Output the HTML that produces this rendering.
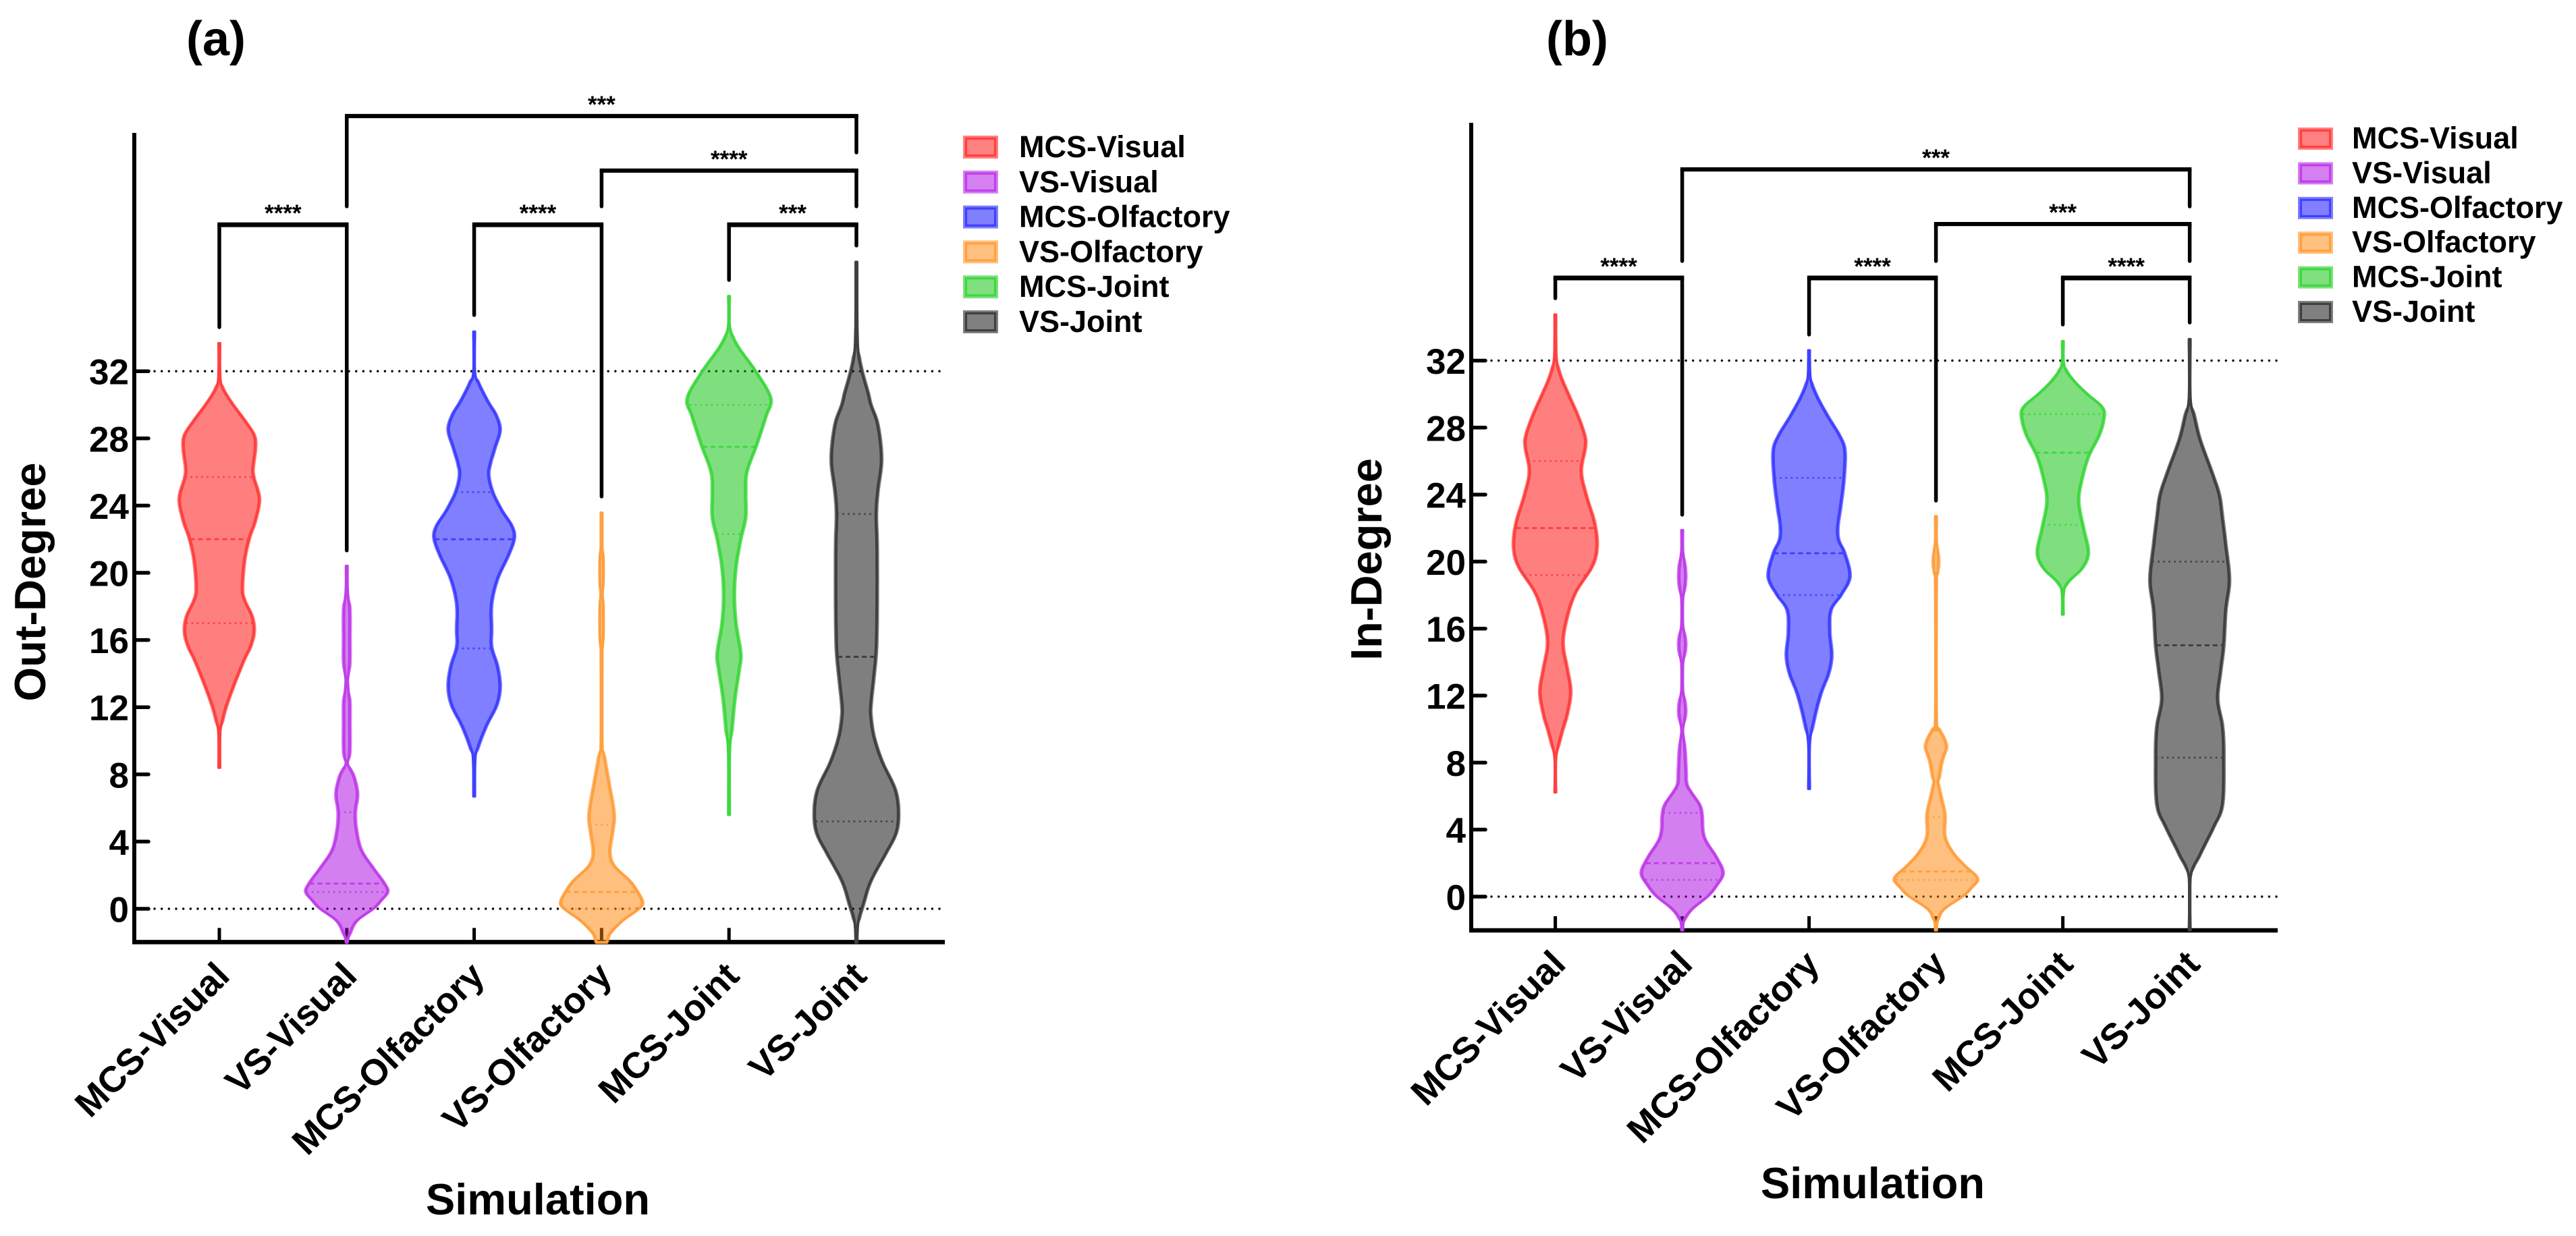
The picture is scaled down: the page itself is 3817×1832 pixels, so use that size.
<!DOCTYPE html>
<html lang="en">
<head>
<meta charset="utf-8">
<title>Out-Degree and In-Degree violin plots</title>
<style>
html,body{margin:0;padding:0;background:#fff;}
svg{display:block;}
text{font-family:"Liberation Sans",Arial,sans-serif;font-weight:bold;fill:#000;}
</style>
</head>
<body>
<svg id="figure" xmlns="http://www.w3.org/2000/svg" width="3817" height="1832" viewBox="0 0 3817 1832">
  <rect x="0" y="0" width="3817" height="1832" fill="#fff"/>
  <g id="panel-a">
    <text x="276" y="82" font-size="72">(a)</text>
    <text x="797" y="1800" font-size="65" text-anchor="middle">Simulation</text>
    <text transform="translate(67 862.5) rotate(-90)" font-size="65" text-anchor="middle">Out-Degree</text>
  </g>
  <g id="panel-b">
    <text x="2291" y="82" font-size="72">(b)</text>
    <text x="2775" y="1776" font-size="65" text-anchor="middle">Simulation</text>
    <text transform="translate(2047 829) rotate(-90)" font-size="65" text-anchor="middle">In-Degree</text>
  </g>
</svg>
<script>
// ---- shared categories and axis ticks ----
const categories = ["MCS-Visual","VS-Visual","MCS-Olfactory","VS-Olfactory","MCS-Joint","VS-Joint"];
const yTickValues = [0,4,8,12,16,20,24,28,32];
const referenceValues = [0,32];

// ---- panel (a) Out-Degree: density profile per group ----
const a1Values = [33.66,32,31.1,30.2,29.1,28.2,27.4,26.2,25.6,24.4,23.1,22.05,20.7,19.1,18.4,17.4,16.5,15.6,14.8,13.3,12.1,11,10.2,8.4];
const a1Density = [.17,.17,.6,2.75,6.1,8.5,8.8,8.2,8.5,9.8,8.8,7.3,6.1,5.6,6.1,8,8.5,7.6,6,3.5,1.7,.5,.17,.17];
const a1Quartiles = [17,22,25.7];
const a2Values = [20.4,19.3,18.6,17.7,16,14.8,14,13.6,12.9,12.2,11,9.6,9,8.6,7.87,6.83,5.75,4.7,3.5,2.43,1.53,1,.47,0,-.74,-1.5,-2];
const a2Density = [.17,.17,.33,.67,.67,.67,.42,.25,.42,.67,.67,.67,.5,.25,1.67,2.55,2,2.28,3.5,6.45,9.17,10,8.33,6.5,2.33,.67,.17];
const a2Quartiles = [1,1.5,5.75];
const a3Values = [34.35,32,31.3,30.2,29.4,28.5,27.4,26.5,25.8,24.8,23.7,22.8,22.05,21,19.65,18.15,16.6,15.6,14.4,13.2,12.1,10.9,9.7,8.9,6.7];
const a3Density = [.17,.17,1,3.3,5.3,6.3,5,3.9,3.5,4.5,6.8,9.2,9.8,8.3,5.7,4.2,4.2,4.2,5.7,6.3,5.45,2.95,1,.25,.17];
const a3Quartiles = [15.5,22,24.8];
const a4Values = [23.57,22,21.4,20.9,19.4,18.9,18.5,18.1,16.2,15.4,15,10,9.2,7.57,6.05,5.3,4.4,3.33,2.57,1.68,1,.4,0,-.74,-1.5,-2];
const a4Density = [.17,.17,.2,.42,.42,.25,.25,.42,.42,.17,.17,.17,.5,1.67,2.78,3,2.5,1.95,3,6.83,8.83,10,9.17,5,1.95,1.33];
const a4Quartiles = [0,1,5];
const a5Values = [36.46,34.7,33.6,32,30.4,29.3,27.6,26,24.75,23.3,21.9,20.3,18.66,17,15.2,14.2,12.6,10.6,9.15,5.6];
const a5Density = [.17,.17,1.8,6.5,10.2,9,6.7,4.3,4,4,2.7,1.6,1.2,1.6,2.8,2.4,1.4,.6,.17,.17];
const a5Quartiles = [22.3,27.5,30];
const a6Values = [38.5,36,34.2,33,32,30.7,30,28.8,26.76,24.9,23.5,21.5,17.85,15.4,13.8,12.2,11.4,10.2,8.75,7.1,5.7,4.5,3.3,1.66,.24,-.77,-2];
const a6Density = [.17,.17,.25,.5,1.3,2.8,3.5,5.2,6.1,5.2,4.8,5,5,4.8,4.2,3.5,3.5,4.3,6.3,9.5,10.3,9.7,7.2,3.5,1.6,.45,.17];
const a6Quartiles = [5.2,15,23.5];

// ---- panel (b) In-Degree: density profile per group ----
const b1Values = [34.74,33.2,32,31.1,29.9,28.7,27.5,26.8,25.4,24,22.3,20.9,19.7,18.1,16.47,15.07,13.66,12.25,10.85,9.68,8.27,6.23];
const b1Density = [.17,.17,.33,1.2,3.3,5.5,7.2,7.3,6.3,7.5,9.6,10.2,9,4.8,2.6,1.8,2.8,3.7,2.8,1.4,.17,.17];
const b1Quartiles = [19.2,22,26];
const b2Values = [21.87,20.7,20,19.13,18.3,17.7,16.3,15.7,15.05,14.4,13.8,12.4,11.8,11.1,10.5,9.9,9.1,7.5,6.75,6.28,5.5,4.87,3.93,3.3,2.36,1.42,.64,0,-.77,-1.4,-2];
const b2Density = [.17,.17,.5,.75,.5,.17,.17,.5,.75,.5,.17,.17,.5,.75,.5,.17,.5,.83,1,2,4.17,4.8,5,5.83,8.33,10,8.33,6.17,2.28,.5,.17];
const b2Quartiles = [1,2,5];
const b3Values = [32.6,32,30.84,29.9,28.7,27.5,26.6,24.9,23.3,22.1,21.3,20.5,19.1,18,17.1,15.8,14.4,13.3,12.1,10.5,9.1,6.44];
const b3Density = [.17,.17,.4,1.8,4.5,7.5,8.75,8.5,7.7,7,7.2,8.7,10,7.8,5.3,5,5.5,4.7,2.8,1.1,.17,.17];
const b3Quartiles = [18,20.5,25];
const b4Values = [22.7,21.3,20.7,20,19.3,18.5,10.7,10.04,9.5,8.94,8.4,8,7.2,6.75,5.8,4.87,3.6,2.67,1.9,1.1,.48,0,-.77,-1.4,-2];
const b4Density = [.17,.17,.42,.58,.42,.17,.17,.67,1.83,2.5,1.83,1.33,.75,.5,1.33,2.12,2.12,4,6.83,10.17,8.5,6.5,1.83,.45,.17];
const b4Quartiles = [1,1.5,4.75];
const b5Values = [33.15,32,31.4,30.7,30,29.2,28.5,27.5,26.3,25,23.6,22,20.55,19.6,18.7,18,16.85];
const b5Density = [.17,.17,.8,3,6,9.7,10,8.8,6.3,4.7,3.8,5,6.2,4.7,1,.17,.17];
const b5Quartiles = [22.2,26.5,28.8];
const b6Values = [33.27,29.8,28.64,27.26,25.4,24,22.6,21,18.9,17.1,15,13.4,11.77,10.15,8.3,5.5,4.14,2.52,1.13,-2];
const b6Density = [.17,.17,1.1,2.5,5.3,7.2,8,8.8,9.7,8.8,8.3,7.5,6.8,8,8.3,8,5.8,2.5,.17,.17];
const b6Quartiles = [8.3,15,20];

// ---- significance brackets: group indices, bar level and leg ends in axis units ----
const aBracketFrom = [1,3,0,2,4];
const aBracketTo = [5,5,1,3,5];
const aBracketLevel = [47.19,43.94,40.72,40.72,40.72];
const aBracketLeftEnd = [41.81,41.81,34.62,35.34,37.43];
const aBracketRightEnd = [45.02,41.81,21.33,24.54,39.48];
const aBracketStars = ["***","****","****","****","***"];
const bBracketFrom = [1,3,0,2,4];
const bBracketTo = [5,5,1,3,5];
const bBracketLevel = [43.41,40.15,36.93,36.93,36.93];
const bBracketLeftEnd = [37.94,37.94,35.72,33.55,34.15];
const bBracketRightEnd = [41.20,37.94,22.80,23.64,34.27];
const bBracketStars = ["***","***","****","****","****"];

// ---- series colours (style, separate from data) ----
const fillColors = ["#ff0000","#aa00e1","#0000ff","#ff8000","#00c000","#000000"];
const haloColors = ["#ff8080","#d580f0","#8080ff","#ffc080","#80e080","#808080"];
const lineColors = ["#ff4040","#c040e8","#4040ff","#ffa040","#40d840","#404040"];

const svgNS = "http://www.w3.org/2000/svg";
function make(tag, parent, attrs){
  const node = document.createElementNS(svgNS, tag);
  for (const k in attrs) node.setAttribute(k, attrs[k]);
  parent.appendChild(node);
  return node;
}
function slug(s){ return s.toLowerCase(); }

// Catmull-Rom resampling of a (value, density) profile
function sampleProfile(values, density){
  const out = [];
  const n = values.length;
  for (let i = 0; i < n - 1; i++){
    const v0 = values[Math.max(i-1,0)], v1 = values[i], v2 = values[i+1], v3 = values[Math.min(i+2,n-1)];
    const d0 = density[Math.max(i-1,0)], d1 = density[i], d2 = density[i+1], d3 = density[Math.min(i+2,n-1)];
    for (let s = 0; s < 6; s++){
      const t = s/6, t2 = t*t, t3 = t2*t;
      const v = .5*(2*v1 + (v2-v0)*t + (2*v0-5*v1+4*v2-v3)*t2 + (3*v1-v0-3*v2+v3)*t3);
      const d = .5*(2*d1 + (d2-d0)*t + (2*d0-5*d1+4*d2-d3)*t2 + (3*d1-d0-3*d2+d3)*t3);
      out.push([v, Math.max(d, .1)]);
    }
  }
  out.push([values[n-1], Math.max(density[n-1], .1)]);
  return out;
}
function densityAt(values, density, q){
  for (let i = 0; i < values.length - 1; i++){
    if (q <= values[i] && q >= values[i+1]){
      const f = (values[i] - q) / ((values[i] - values[i+1]) || 1);
      return density[i] + f * (density[i+1] - density[i]);
    }
  }
  return 0;
}

function drawPanel(cfg){
  const root = document.getElementById(cfg.id);
  const yScale = v => cfg.yZero - cfg.unit * v;
  const xScale = i => cfg.firstX + cfg.stepX * i;
  const widthScale = d => d * 6;

  // reference lines
  referenceValues.forEach(function(v){
    const line = make("line", root, {x1:cfg.axisX + 30, x2:cfg.xEnd, y1:yScale(v), y2:yScale(v), stroke:"#000", "stroke-width":3.4, "stroke-linecap":"round", "stroke-dasharray":"0 10.67"});
    
    
  });

  // y axis
  const yAxis = make("line", root, {x1:cfg.axisX, x2:cfg.axisX, y1:cfg.axisTop, y2:cfg.axisY + 3, stroke:"#000", "stroke-width":6});
  
  
  yTickValues.forEach(function(v){
    const tick = make("line", root, {x1:cfg.axisX, x2:cfg.axisX + 21, y1:yScale(v), y2:yScale(v), stroke:"#000", "stroke-width":5.5, "stroke-linecap":"round"});
    
    
    const label = make("text", root, {x:cfg.axisX - 8, y:yScale(v) + 19.5, "font-size":53, "text-anchor":"end"});
    label.textContent = String(v);
    
    
  });

  // x axis
  const xAxis = make("line", root, {x1:cfg.axisX - 3, x2:cfg.xEnd, y1:cfg.axisY, y2:cfg.axisY, stroke:"#000", "stroke-width":6.5});
  
  
  categories.forEach(function(name, i){
    const tick = make("line", root, {x1:xScale(i), x2:xScale(i), y1:cfg.axisY - 21, y2:cfg.axisY, stroke:"#000", "stroke-width":5});
    
    
    const label = make("text", root, {transform:"translate(" + (xScale(i) + 18) + " " + (cfg.axisY + 53) + ") rotate(-45)", "font-size":54, "text-anchor":"end"});
    label.textContent = name;
    
    
  });

  // violins
  cfg.violins.forEach(function(series, i){
    const name = slug(categories[i]);
    const g = make("g", root, {});
    
    
    const samples = sampleProfile(series.values, series.density);
    const cx = xScale(i);
    const outline = function(extra){
      const right = samples.map(function(p){
        const w = widthScale(p[1]);
        const h = w + extra * Math.min(1, Math.max(0, w - 1) / 2.5);
        return (cx + h).toFixed(1) + "," + yScale(p[0]).toFixed(1);
      });
      const left = samples.slice().reverse().map(function(p){
        const w = widthScale(p[1]);
        const h = w + extra * Math.min(1, Math.max(0, w - 1) / 2.5);
        return (cx - h).toFixed(1) + "," + yScale(p[0]).toFixed(1);
      });
      return "M" + right.concat(left).join("L") + "Z";
    };
    const body = make("path", g, {d:outline(3.6), fill:fillColors[i], "fill-opacity":.5});
    
    
    const edge = make("path", g, {d:outline(0), fill:"none", stroke:lineColors[i], "stroke-width":4, "stroke-linejoin":"round"});
    
    
    series.quartiles.forEach(function(q, k){
      const hw = widthScale(densityAt(series.values, series.density, q));
      const isMedian = k === 1;
      const line = make("line", g, {x1:cx - hw, x2:cx + hw, y1:yScale(q), y2:yScale(q), stroke:lineColors[i], "stroke-width":isMedian ? 3 : 2.6, "stroke-dasharray":isMedian ? "7 5" : "2.6 5.4"});
      
      
    });
  });

  // brackets
  cfg.from.forEach(function(fromIdx, b){
    const toIdx = cfg.to[b];
    const g = make("g", root, {});
    
    
    const xa = xScale(fromIdx), xb = xScale(toIdx), yl = yScale(cfg.level[b]);
    const bar = make("line", g, {x1:xa - 2.75, x2:xb + 2.75, y1:yl, y2:yl, stroke:"#000", "stroke-width":b < 2 ? 6.2 : 7});
    
    
    const legA = make("line", g, {x1:xa, x2:xa, y1:yl, y2:yScale(cfg.leftEnd[b]), stroke:"#000", "stroke-width":5.5, "stroke-linecap":"round"});
    
    
    const legB = make("line", g, {x1:xb, x2:xb, y1:yl, y2:yScale(cfg.rightEnd[b]), stroke:"#000", "stroke-width":5.5, "stroke-linecap":"round"});
    
    
    const stars = make("text", g, {x:(xa + xb) / 2, y:yl - 5, "font-size":35, "text-anchor":"middle"});
    stars.textContent = cfg.stars[b];
    
    
  });

  // legend
  categories.forEach(function(name, i){
    const g = make("g", root, {});
    
    
    const y = cfg.legendY + i * cfg.legendStep;
    const swatch = make("rect", g, {x:cfg.legendX, y:y, width:52, height:cfg.legendH, fill:haloColors[i]});
    
    
    const border = make("rect", g, {x:cfg.legendX + 4.4, y:y + 4.4, width:43.2, height:cfg.legendH - 8.8, fill:"none", stroke:lineColors[i], "stroke-width":3.3});
    
    
    const label = make("text", g, {x:cfg.legendTextX, y:y + cfg.legendH - 2, "font-size":45});
    label.textContent = name;
    
    
  });
}

drawPanel({
  id:"panel-a", axisX:199, xEnd:1400, axisTop:197, axisY:1396.4, yZero:1347, unit:24.9, firstX:325, stepX:188.8,
  legendX:1427, legendY:201, legendStep:51.8, legendH:34, legendTextX:1510,
  violins:[
    {values:a1Values, density:a1Density, quartiles:a1Quartiles},
    {values:a2Values, density:a2Density, quartiles:a2Quartiles},
    {values:a3Values, density:a3Density, quartiles:a3Quartiles},
    {values:a4Values, density:a4Density, quartiles:a4Quartiles},
    {values:a5Values, density:a5Density, quartiles:a5Quartiles},
    {values:a6Values, density:a6Density, quartiles:a6Quartiles}
  ],
  from:aBracketFrom, to:aBracketTo, level:aBracketLevel, leftEnd:aBracketLeftEnd, rightEnd:aBracketRightEnd, stars:aBracketStars
});
drawPanel({
  id:"panel-b", axisX:2180, xEnd:3375, axisTop:182, axisY:1379, yZero:1329, unit:24.83, firstX:2304.6, stepX:188,
  legendX:3405, legendY:189, legendStep:51.4, legendH:33, legendTextX:3485,
  violins:[
    {values:b1Values, density:b1Density, quartiles:b1Quartiles},
    {values:b2Values, density:b2Density, quartiles:b2Quartiles},
    {values:b3Values, density:b3Density, quartiles:b3Quartiles},
    {values:b4Values, density:b4Density, quartiles:b4Quartiles},
    {values:b5Values, density:b5Density, quartiles:b5Quartiles},
    {values:b6Values, density:b6Density, quartiles:b6Quartiles}
  ],
  from:bBracketFrom, to:bBracketTo, level:bBracketLevel, leftEnd:bBracketLeftEnd, rightEnd:bBracketRightEnd, stars:bBracketStars
});
</script>
</body>
</html>
